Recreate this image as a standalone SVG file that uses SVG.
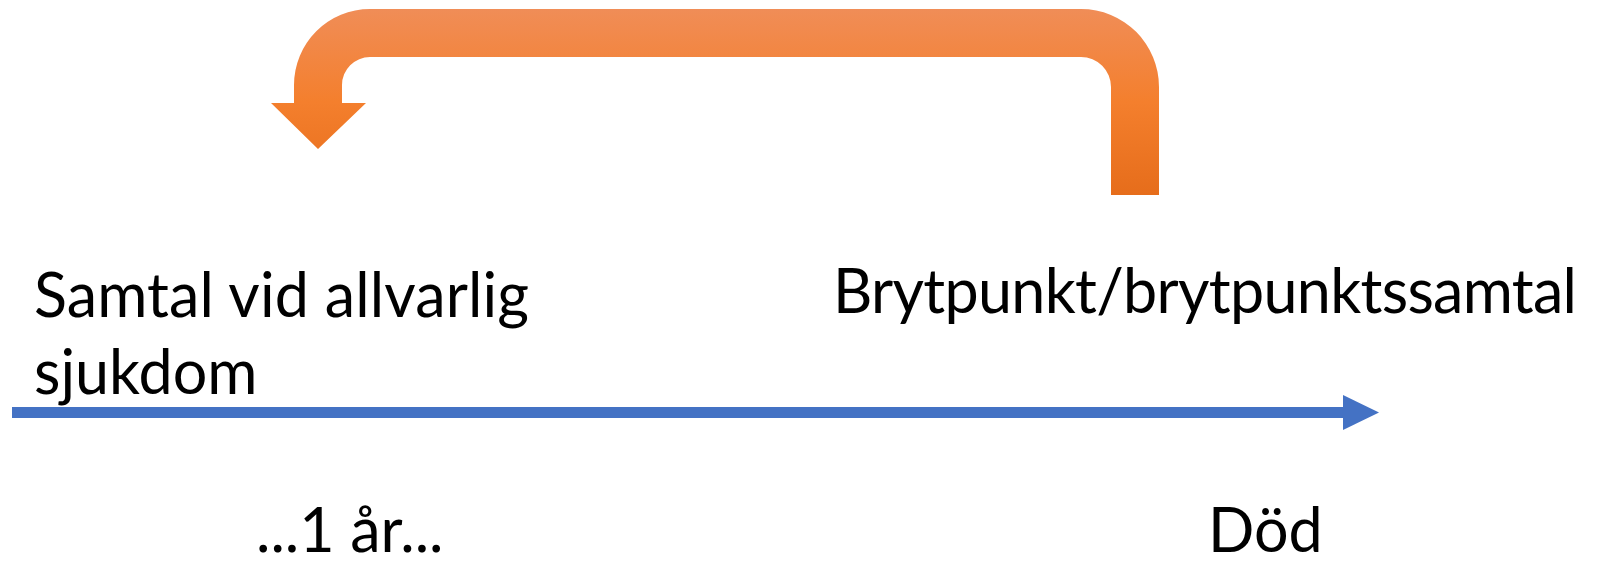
<svg xmlns="http://www.w3.org/2000/svg" width="1599" height="562" viewBox="0 0 1599 562">
  <style>
    .lbl { font-family: Lato, "Open Sans", "Noto Sans", sans-serif; font-size: 61px; fill: #000000; }
  </style>
  <defs>
    <linearGradient id="og" gradientUnits="userSpaceOnUse" x1="0" y1="9" x2="0" y2="195">
      <stop offset="0" stop-color="#F08D57"/>
      <stop offset="0.5" stop-color="#F47F2D"/>
      <stop offset="1" stop-color="#E66D1B"/>
    </linearGradient>
    <marker id="blueHead" markerUnits="userSpaceOnUse" markerWidth="36" markerHeight="36" refX="0" refY="17.5" orient="auto" viewBox="0 0 36 35">
      <polygon points="0,0 36,17.5 0,35" fill="#4472C4"/>
    </marker>
  </defs>
  <rect x="0" y="0" width="1599" height="562" fill="#FFFFFF"/>
  <g id="connectors">
    <path id="uturn" fill="url(#og)" d="M1159,195 L1159,87 A78,78 0 0 0 1081,9 L370,9 A76,76 0 0 0 294,85 L294,103 L271,103 L318,149 L366,103 L342,103 L342,85 A28,28 0 0 1 370,57 L1081,57 A30,30 0 0 1 1111,87 L1111,195 Z"/>
    <line id="timeline" x1="12" y1="412.5" x2="1343" y2="412.5" stroke="#4472C4" stroke-width="11" marker-end="url(#blueHead)"/>
  </g>
  <g id="node-samtal">
    <text class="lbl" x="34" y="317" textLength="495" lengthAdjust="spacing">Samtal vid allvarlig</text>
    <text class="lbl" x="34" y="394">sjukdom</text>
  </g>
  <g id="node-brytpunkt">
    <text class="lbl" x="833" y="313" textLength="744" lengthAdjust="spacing">Brytpunkt/brytpunktssamtal</text>
  </g>
  <g id="node-ar">
    <text class="lbl" x="256" y="552">...1 år...</text>
  </g>
  <g id="node-dod">
    <text class="lbl" x="1208" y="552">Död</text>
  </g>
</svg>
